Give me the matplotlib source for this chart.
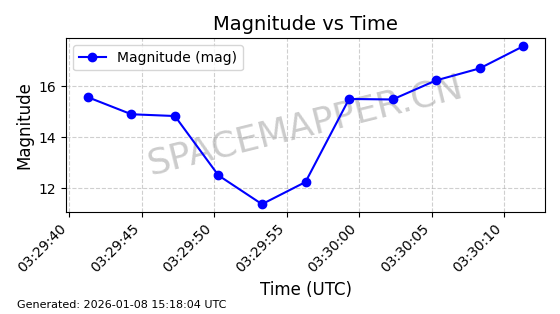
import matplotlib
matplotlib.use("Agg")
import matplotlib.pyplot as plt
import matplotlib.dates as mdates
import pandas as pd

times = ["2026-01-08 03:29:41.3", "2026-01-08 03:29:44.3", "2026-01-08 03:29:47.3",
         "2026-01-08 03:29:50.3", "2026-01-08 03:29:53.3", "2026-01-08 03:29:56.3",
         "2026-01-08 03:29:59.3", "2026-01-08 03:30:02.3", "2026-01-08 03:30:05.3",
         "2026-01-08 03:30:08.3", "2026-01-08 03:30:11.3"]
magnitudes = [15.57, 14.90, 14.83, 12.50, 11.37, 12.24, 15.50, 15.48, 16.23, 16.70, 17.57]

t = pd.to_datetime(times)

fig, ax = plt.subplots(figsize=(5.6, 3.14), dpi=100)
ax.plot(t, magnitudes, "o-", color="blue", label="Magnitude (mag)", zorder=3)
ax.set_title("Magnitude vs Time", fontsize=14)
ax.set_xlabel("Time (UTC)", fontsize=12)
ax.set_ylabel("Magnitude", fontsize=12)
ax.grid(True, linestyle="--", alpha=0.6)
ax.legend(loc="upper left")
ax.xaxis.set_major_locator(mdates.SecondLocator(bysecond=range(0, 60, 5)))
ax.xaxis.set_major_formatter(mdates.DateFormatter("%H:%M:%S"))
plt.setp(ax.get_xticklabels(), rotation=45, ha="right")
ax.text(0.5, 0.5, "SPACEMAPPER.CN", transform=ax.transAxes, fontsize=26,
        color="gray", alpha=0.4, ha="center", va="center", rotation=14, zorder=1)
fig.tight_layout()
fig.text(0.03, 0.02, "Generated: 2026-01-08 15:18:04 UTC", fontsize=8)
fig.savefig("out.png", dpi=100)
